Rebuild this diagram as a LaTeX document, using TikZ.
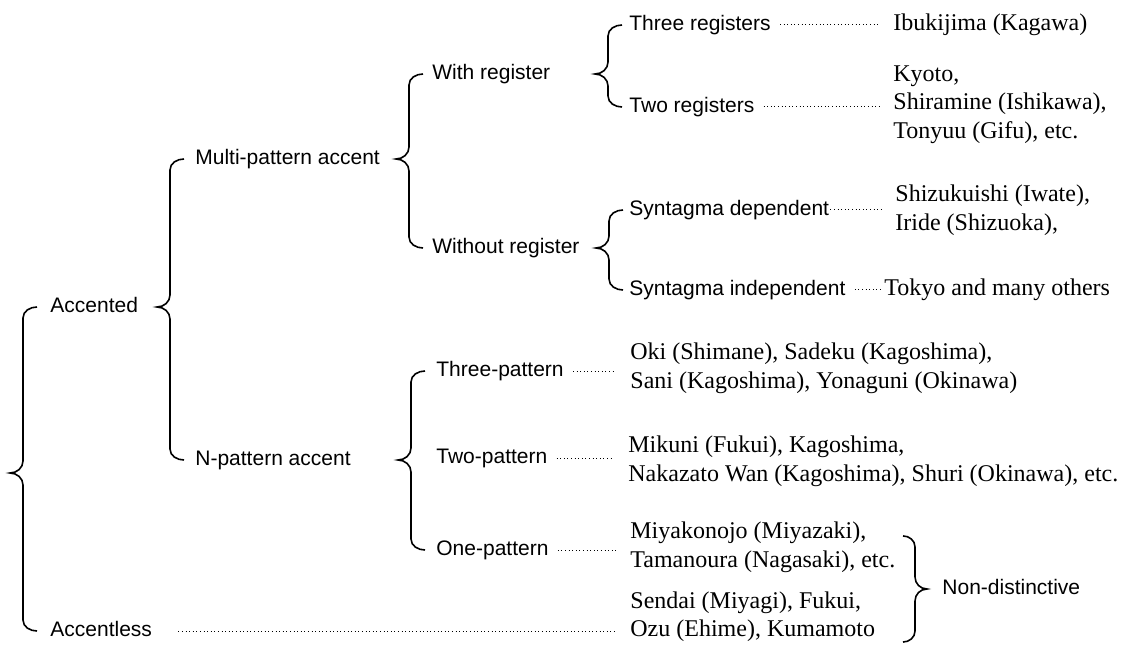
\documentclass[tikz,border=0pt]{standalone}
\usepackage{fontspec}
\setmainfont{Liberation Serif}
\setsansfont{Liberation Sans}
\usetikzlibrary{calc}
\tikzset{brace/.style={draw, line width=0.8pt}}
% open brace: tip at the parent's height, hooks on the two children
\newcommand{\branch}[4][12pt]{%
  \draw[brace] let \p1=(#2.center), \p2=(#3.west), \p3=(#4.west), \p4=([xshift=-#1]#3.west) in
    (\x4+7pt,\y2) to[out=180,in=90] (\x4,\y2-5.5pt) -- (\x4,\y1+6pt)
    to[out=-90,in=0] (\x4-6.5pt,\y1) to[out=0,in=90] (\x4,\y1-6pt)
    -- (\x4,\y3+5.5pt) to[out=-90,in=180] (\x4+7pt,\y3);}

\begin{document}
\begin{tikzpicture}[x=0.5pt, y=0.5pt,
    cat/.style={font=\sffamily\fontsize{10.5}{12}\selectfont, inner sep=0pt, anchor=west, text height=7.6pt, text depth=2.2pt},
    ex/.style={font=\fontsize{12}{14.25}\selectfont, inner sep=0pt, anchor=west, align=left},
    leader/.style={line width=0.5pt, dash pattern=on 0.5pt off 1.3pt, shorten <=4.5pt, shorten >=7pt},
]
\useasboundingbox (0,0) rectangle (1122,-657);

% categories
\coordinate (root) at (0,-473);
\node[cat] (acc) at (50,-307) {Accented};
\node[cat] (accless) at (50,-631) {Accentless};
\node[cat] (multi) at (195,-159) {Multi-pattern accent};
\node[cat] (npat) at (195,-460) {N-pattern accent};
\node[cat] (withreg) at (432,-74) {With register};
\node[cat] (withoutreg) at (432,-248) {Without register};
\node[cat] (threepat) at (436,-371) {Three-pattern};
\node[cat] (twopat) at (436,-458) {Two-pattern};
\node[cat] (onepat) at (436,-550) {One-pattern};
\node[cat] (threereg) at (629,-25) {Three registers};
\node[cat] (tworeg) at (629,-107) {Two registers};
\node[cat] (syndep) at (629,-210) {Syntagma dependent};
\node[cat] (synind) at (629,-290) {Syntagma independent};
\node[cat] (nondist) at (942,-589) {Non-distinctive};

% examples
\node[ex] (ibuki) at (893,-25) {Ibukijima (Kagawa)};
\node[ex] (kyoto) at (893,-104.5) {Kyoto,\\Shiramine (Ishikawa),\\Tonyuu (Gifu), etc.};
\node[ex] (shizu) at (895,-210) {Shizukuishi (Iwate),\\Iride (Shizuoka),};
\node[ex] (tokyo) at (884,-290) {Tokyo and many others};
\node[ex] (oki) at (630,-368.5) {Oki (Shimane), Sadeku (Kagoshima),\\Sani (Kagoshima), Yonaguni (Okinawa)};
\node[ex] (mikuni) at (628,-461.5) {Mikuni (Fukui), Kagoshima,\\Nakazato Wan (Kagoshima), Shuri (Okinawa), etc.};
\node[ex] (miyako) at (630,-547.5) {Miyakonojo (Miyazaki),\\Tamanoura (Nagasaki), etc.};
\node[ex] (sendai) at (630,-616.5) {Sendai (Miyagi), Fukui,\\Ozu (Ehime), Kumamoto};

% braces
\branch[13.5pt]{root}{acc}{accless}
\branch[12.5pt]{acc}{multi}{npat}
\branch[11.5pt]{multi}{withreg}{withoutreg}
\branch[12.5pt]{npat}{threepat}{onepat}
\branch[10.5pt]{withreg}{threereg}{tworeg}
\branch[10pt]{withoutreg}{syndep}{synind}
\draw[brace] let \p1=(nondist.west), \p2=(miyako.north), \p3=(sendai.south), \p4=([xshift=-13.5pt]nondist.west) in
    (\x4-6pt,\y2-7pt) to[out=0,in=90] (\x4,\y2-12.5pt) -- (\x4,\y1+6pt)
    to[out=-90,in=180] (\x4+6pt,\y1) to[out=180,in=90] (\x4,\y1-6pt)
    -- (\x4,\y3+5.5pt) to[out=-90,in=0] (\x4-6pt,\y3);

% dotted leaders
\draw[leader] (threereg.east) -- (threereg.east -| ibuki.west);
\draw[leader] (tworeg.east) -- (tworeg.east -| kyoto.west);
\draw[leader, shorten <=0.5pt] (syndep.east) -- (syndep.east -| shizu.west);
\draw[leader, shorten >=1.5pt] (synind.east) -- (synind.east -| tokyo.west);
\draw[leader] (threepat.east) -- (threepat.east -| oki.west);
\draw[leader] (twopat.east) -- (twopat.east -| mikuni.west);
\draw[leader] (onepat.east) -- (onepat.east -| miyako.west);
\draw[leader, shorten <=13pt] (accless.east) -- (accless.east -| sendai.west);
\end{tikzpicture}
\end{document}
